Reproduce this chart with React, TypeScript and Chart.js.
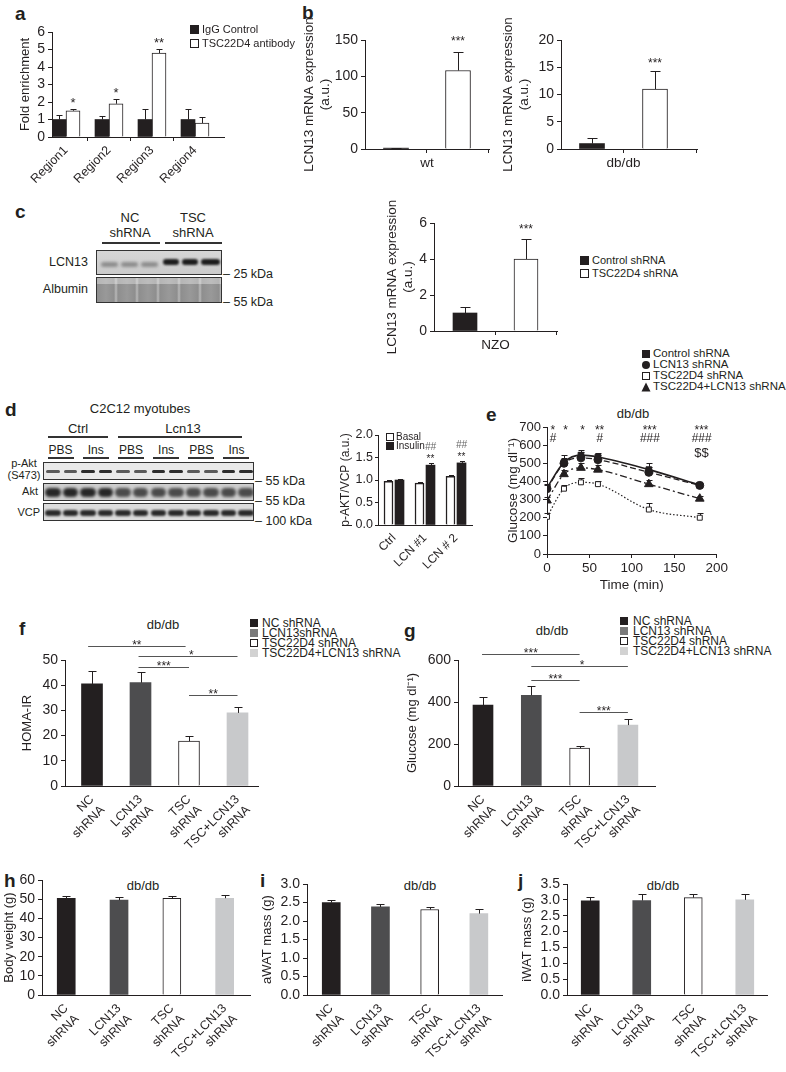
import React, { useEffect, useRef } from "react";
import { Chart, registerables } from "chart.js";

Chart.register(...registerables);

const FONT = "'Liberation Sans', Arial, Helvetica, sans-serif";
const INK = "#231f20";

// ---------------- data ----------------
// panel a
const aRegions = ["Region1", "Region2", "Region3", "Region4"];
const aIgG = [1.0, 1.0, 1.0, 1.0];
const aIgGTop = [1.25, 1.2, 1.6, 1.6];
const aTsc = [1.5, 1.9, 4.8, 0.8];
const aTscTop = [1.62, 2.2, 5.05, 1.15];
const aStars = ["*", "*", "**", ""];
// panel b
const bWtLabel = ["wt"];
const bWtValues = [1.2, 108];
const bWtTop = [1.8, 133];
const bDbLabel = ["db/db"];
const bDbValues = [1.0, 11];
const bDbTop = [2.0, 14.4];
// panel c
const cLabel = ["NZO"];
const cValues = [1.0, 4.0];
const cTop = [1.35, 5.1];
// panel d
const dGroups = ["Ctrl", "LCN #1", "LCN # 2"];
const dBasal = [0.97, 0.93, 1.08];
const dBasalTop = [1.0, 0.96, 1.11];
const dInsulin = [1.0, 1.33, 1.38];
const dInsulinTop = [1.03, 1.37, 1.42];
const dStars = ["", "**", "**"];
const dHash = ["", "##", "##"];
// panel e
const eTimes = [0, 20, 40, 60, 120, 180];
const eControl = [365, 505, 545, 535, 465, 380];
const eControlTop = [385, 545, 575, 558, 500, 392];
const eLcn13 = [360, 500, 530, 520, 450, 378];
const eLcn13Top = [378, 530, 560, 545, 480, 386];
const eTsc = [205, 360, 395, 385, 245, 200];
const eTscTop = [225, 380, 420, 405, 280, 225];
const eCombo = [295, 440, 475, 465, 385, 305];
const eComboTop = [312, 465, 500, 490, 410, 320];
const eStarX = [7, 22, 42, 62, 121, 182];
const eStars = ["*", "*", "*", "**", "***", "***"];
const eHash = ["#", "", "", "#", "###", "###"];
const eDollar = ["", "", "", "", "", "$$"];
// panels f-j
const groupLabels = [["NC", "shRNA"], ["LCN13", "shRNA"], ["TSC", "shRNA"], ["TSC+LCN13", "shRNA"]];
const fHoma = [40.5, 41.0, 17.8, 29.0];
const fHomaTop = [45.5, 45.2, 20.0, 31.4];
const gGlucose = [385, 432, 180, 290];
const gGlucoseTop = [425, 477, 190, 320];
const hBody = [50.5, 49.5, 50.5, 50.5];
const hBodyTop = [51.6, 51.2, 51.6, 52.2];
const iAwat = [2.5, 2.38, 2.31, 2.2];
const iAwatTop = [2.57, 2.47, 2.37, 2.33];
const jIwat = [2.97, 2.98, 3.07, 3.0];
const jIwatTop = [3.1, 3.18, 3.2, 3.18];

const groupFill = [INK, "#4d4d4f", "#ffffff", "#c8c9cb"];
const groupBorderW = [0, 0, 1, 0];

// ---------------- helpers ----------------
type Note = { x: number; y: number; dy: number; text: string; size?: number; color?: string; italic?: boolean };
type Sig = { x1: number; x2: number; y: number; text: string; tx?: number };
type ErrSpec = { ds: number; tops: number[]; cap: number };

function decor(errs: ErrSpec[], notes: Note[], sigs: Sig[], xTicks: number[], errBehind = false) {
  const drawErr = (chart: any) => {
    const ctx = chart.ctx;
    const ys = chart.scales.y;
    ctx.save();
    ctx.strokeStyle = INK;
    ctx.lineWidth = 1;
    errs.forEach((e) => {
      const meta = chart.getDatasetMeta(e.ds);
      meta.data.forEach((el: any, i: number) => {
        const t = e.tops[i];
        if (t == null) return;
        const x = Math.round(el.x) + 0.5;
        const y1 = Math.round(ys.getPixelForValue(t)) + 0.5;
        ctx.beginPath();
        ctx.moveTo(x, el.y);
        ctx.lineTo(x, y1);
        ctx.moveTo(x - e.cap / 2, y1);
        ctx.lineTo(x + e.cap / 2, y1);
        ctx.stroke();
      });
    });
    ctx.restore();
  };
  return {
    id: "decor",
    beforeDatasetsDraw(chart: any) {
      if (errBehind) drawErr(chart);
    },
    afterDatasetsDraw(chart: any) {
      if (!errBehind) drawErr(chart);
    },
    afterDraw(chart: any) {
      const ctx = chart.ctx;
      const xs = chart.scales.x;
      const ys = chart.scales.y;
      const area = chart.chartArea;
      ctx.save();
      ctx.strokeStyle = INK;
      ctx.fillStyle = INK;
      ctx.lineWidth = 1;
      xTicks.forEach((v) => {
        const x = Math.round(xs.getPixelForValue(v)) - 0.5;
        ctx.beginPath();
        ctx.moveTo(x, area.bottom);
        ctx.lineTo(x, area.bottom + 4);
        ctx.stroke();
      });
      sigs.forEach((s) => {
        const y = Math.round(ys.getPixelForValue(s.y)) + 0.5;
        const x1 = xs.getPixelForValue(s.x1);
        const x2 = xs.getPixelForValue(s.x2);
        ctx.strokeStyle = "#555";
        ctx.beginPath();
        ctx.moveTo(x1, y);
        ctx.lineTo(x2, y);
        ctx.stroke();
        ctx.font = `12px ${FONT}`;
        ctx.textAlign = "center";
        ctx.textBaseline = "alphabetic";
        const tx = s.tx != null ? xs.getPixelForValue(s.tx) : (x1 + x2) / 2;
        ctx.fillText(s.text, tx, y + 2);
      });
      notes.forEach((n) => {
        if (!n.text) return;
        ctx.font = `${n.italic ? "italic " : ""}${n.size ?? 12}px ${FONT}`;
        ctx.fillStyle = n.color ?? INK;
        ctx.textAlign = "center";
        ctx.textBaseline = "alphabetic";
        ctx.fillText(n.text, xs.getPixelForValue(n.x), ys.getPixelForValue(n.y) + n.dy);
      });
      ctx.restore();
    },
  };
}

type Series = {
  values: number[];
  tops: number[];
  xs: number[];
  fill: string | string[];
  stroke: string | string[];
  bw: number | number[];
};

type BarOpts = {
  series: Series[];
  xMin: number;
  xMax: number;
  labels: (string | string[])[];
  labelXs: number[];
  xTicks?: number[];
  yMax: number;
  yStep: number;
  yDigits?: number;
  yTitle: string | string[];
  barW: number;
  cap: number;
  yW: number;
  xH: number;
  padTop: number;
  padRight: number;
  padLeft?: number;
  tickSize: number;
  tickLen?: number;
  tickPad?: number;
  labelSize: number;
  titleSize: number;
  rot: number;
  notes?: Note[];
  sigs?: Sig[];
};

function barConfig(o: BarOpts): any {
  const datasets = o.series.map((s) => ({
    type: "bar",
    data: s.values.map((v, i) => ({ x: s.xs[i], y: v })),
    backgroundColor: s.fill,
    borderColor: s.stroke,
    borderWidth: s.bw,
    barThickness: o.barW,
    grouped: false,
  }));
  const errs = o.series.map((s, k) => ({ ds: k, tops: s.tops, cap: o.cap }));
  return {
    type: "bar",
    data: { datasets },
    options: {
      animation: false,
      responsive: false,
      devicePixelRatio: 1,
      layout: { padding: { top: o.padTop, right: o.padRight, left: o.padLeft ?? 0, bottom: 0 } },
      plugins: { legend: { display: false }, tooltip: { enabled: false } },
      scales: {
        x: {
          type: "linear",
          offset: false,
          min: o.xMin,
          max: o.xMax,
          afterBuildTicks: (s: any) => {
            s.ticks = o.labelXs.map((v) => ({ value: v }));
          },
          afterFit: (s: any) => {
            s.height = o.xH;
          },
          grid: { display: false, drawTicks: true, tickLength: 4 },
          border: { display: true, color: INK, width: 1 },
          ticks: {
            autoSkip: false,
            maxRotation: o.rot,
            minRotation: o.rot,
            padding: 2,
            color: INK,
            font: { family: FONT, size: o.labelSize },
            callback: (_v: any, i: number) => o.labels[i],
          },
        },
        y: {
          type: "linear",
          min: 0,
          max: o.yMax,
          afterFit: (s: any) => {
            s.width = o.yW;
          },
          grid: { display: true, drawOnChartArea: false, drawTicks: true, tickLength: o.tickLen ?? 4, color: INK },
          border: { display: true, color: INK, width: 1 },
          ticks: {
            autoSkip: false,
            stepSize: o.yStep,
            padding: o.tickPad ?? 3,
            color: INK,
            font: { family: FONT, size: o.tickSize },
            callback: (v: any) => (o.yDigits ? Number(v).toFixed(o.yDigits) : String(v)),
          },
          title: {
            display: true,
            text: o.yTitle,
            color: INK,
            font: { family: FONT, size: o.titleSize },
            padding: { top: 2, bottom: 2 },
          },
        },
      },
    },
    plugins: [decor(errs, o.notes ?? [], o.sigs ?? [], o.xTicks ?? [])],
  };
}

const idx = (arr: any[], base = 1) => arr.map((_, i) => i + base);

// ---------------- chart configs ----------------
function makeA() {
  const pitch = 43;
  const off = 7 / pitch;
  const ig = idx(aRegions).map((v) => v - off);
  const ts = idx(aRegions).map((v) => v + off);
  return barConfig({
    series: [
      { values: aIgG, tops: aIgGTop, xs: ig, fill: INK, stroke: INK, bw: 0 },
      { values: aTsc, tops: aTscTop, xs: ts, fill: "#fff", stroke: INK, bw: 1 },
    ],
    xMin: 1 - 14 / pitch,
    xMax: 1 - 14 / pitch + 172 / pitch,
    labels: aRegions,
    labelXs: idx(aRegions),
    xTicks: [1.5, 2.5, 3.5],
    yMax: 6,
    yStep: 1,
    yTitle: "Fold enrichment",
    barW: 14,
    cap: 6,
    yW: 36,
    padLeft: 16,
    xH: 55,
    padTop: 12,
    padRight: 8,
    tickSize: 14,
    labelSize: 12.5,
    titleSize: 13,
    rot: 45,
    notes: aStars.map((t, i) => ({ x: ts[i], y: aTscTop[i], dy: -2, text: t, size: 13 })),
  });
}

function makePair(
  values: number[],
  tops: number[],
  label: string[],
  yMax: number,
  yStep: number,
  xMin: number,
  xMax: number,
  barW: number,
  xH: number,
  dy: number,
  padLeft: number,
  yW: number,
  padTop: number
) {
  const xs = [1, 2];
  return barConfig({
    series: [{ values, tops, xs, fill: [INK, "#fff"], stroke: [INK, INK], bw: [0, 1] }],
    xMin,
    xMax,
    labels: label,
    labelXs: [1.5],
    xTicks: [1.5, xMax],
    yMax,
    yStep,
    yTitle: ["LCN13 mRNA expression", "(a.u.)"],
    barW,
    cap: 10,
    yW,
    padLeft,
    xH,
    padTop,
    padRight: 6,
    tickSize: 14,
    labelSize: 13.5,
    titleSize: 13.5,
    rot: 0,
    notes: [{ x: 2, y: tops[1], dy, text: "***", size: 12 }],
  });
}

function makeD() {
  const pitch = 31;
  const off = 5.5 / pitch;
  const bx = idx(dGroups).map((v) => v - off);
  const ix = idx(dGroups).map((v) => v + off);
  return barConfig({
    series: [
      { values: dBasal, tops: dBasalTop, xs: bx, fill: "#fff", stroke: INK, bw: 1.5 },
      { values: dInsulin, tops: dInsulinTop, xs: ix, fill: INK, stroke: INK, bw: 0 },
    ],
    xMin: 1 - 16 / pitch,
    xMax: 1 - 16 / pitch + 94 / pitch,
    labels: dGroups,
    labelXs: idx(dGroups),
    yMax: 2,
    yStep: 0.5,
    yDigits: 1,
    yTitle: "p-AKT/VCP (a.u.)",
    barW: 9,
    cap: 5,
    yW: 42,
    padLeft: 6,
    tickLen: 3,
    tickPad: 2,
    xH: 58,
    padTop: 12,
    padRight: 4,
    tickSize: 12.5,
    labelSize: 12,
    titleSize: 12,
    rot: 45,
    notes: [
      ...dStars.map((t, i) => ({ x: ix[i], y: dInsulinTop[i], dy: -1, text: t, size: 10 })),
      ...dHash.map((t, i) => ({ x: ix[i], y: dInsulinTop[i], dy: -13, text: t, size: 10, italic: true, color: "#666" })),
    ],
  });
}

function makeGroup(
  values: number[],
  tops: number[],
  yMax: number,
  yStep: number,
  yDigits: number,
  yTitle: string,
  xMin: number,
  xMax: number,
  barW: number,
  yW: number,
  padLeft: number,
  xH: number,
  padTop: number,
  sigs: Sig[]
) {
  return barConfig({
    series: [{ values, tops, xs: idx(values), fill: groupFill, stroke: INK, bw: groupBorderW }],
    xMin,
    xMax,
    labels: groupLabels,
    labelXs: idx(groupLabels),
    yMax,
    yStep,
    yDigits,
    yTitle,
    barW,
    cap: 8,
    yW,
    padLeft,
    xH,
    padTop,
    padRight: 6,
    tickSize: 14,
    labelSize: 12.5,
    titleSize: 13,
    rot: 45,
    sigs,
  });
}

function makeE(): any {
  const specs = [
    { v: eControl, t: eControlTop, shape: "rect", r: 4, fill: INK, dash: [], lw: 1.6 },
    { v: eLcn13, t: eLcn13Top, shape: "circle", r: 4, fill: INK, dash: [6, 3], lw: 1.3 },
    { v: eTsc, t: eTscTop, shape: "rect", r: 3.5, fill: "#fff", dash: [1.5, 2], lw: 1.2 },
    { v: eCombo, t: eComboTop, shape: "triangle", r: 5, fill: INK, dash: [7, 3, 2, 3], lw: 1.3 },
  ];
  const datasets = specs.map((s) => ({
    type: "line",
    data: s.v.map((v, i) => ({ x: eTimes[i], y: v })),
    borderColor: INK,
    borderWidth: s.lw,
    borderDash: s.dash,
    pointStyle: s.shape,
    pointRadius: s.r,
    pointBackgroundColor: s.fill,
    pointBorderColor: INK,
    pointBorderWidth: 1,
    cubicInterpolationMode: "monotone",
    fill: false,
  }));
  const errs = specs.map((s, k) => ({ ds: k, tops: s.t, cap: 6 }));
  const notes: Note[] = [
    ...eStars.map((t, i) => ({ x: eStarX[i], y: 700, dy: 7, text: t, size: 12 })),
    ...eHash.map((t, i) => ({ x: eStarX[i], y: 700, dy: 15, text: t, size: 12, italic: true })),
    ...eDollar.map((t, i) => ({ x: eStarX[i], y: 700, dy: 30, text: t, size: 13 })),
  ];
  return {
    type: "line",
    data: { datasets },
    options: {
      animation: false,
      responsive: false,
      devicePixelRatio: 1,
      layout: { padding: { top: 12, right: 7, left: 24, bottom: 0 } },
      plugins: { legend: { display: false }, tooltip: { enabled: false } },
      scales: {
        x: {
          type: "linear",
          min: 0,
          max: 200,
          afterFit: (s: any) => {
            s.height = 41;
          },
          grid: { display: true, drawOnChartArea: false, drawTicks: true, tickLength: 4, color: INK },
          border: { display: true, color: INK, width: 1 },
          ticks: { autoSkip: false, stepSize: 50, padding: 2, color: INK, font: { family: FONT, size: 13.5 }, maxRotation: 0 },
          title: { display: true, text: "Time (min)", color: INK, font: { family: FONT, size: 13.5 }, padding: { top: 2, bottom: 2 } },
        },
        y: {
          type: "linear",
          min: 0,
          max: 700,
          afterFit: (s: any) => {
            s.width = 43;
          },
          grid: { display: true, drawOnChartArea: false, drawTicks: true, tickLength: 4, color: INK },
          border: { display: true, color: INK, width: 1 },
          ticks: { autoSkip: false, stepSize: 100, padding: 2, color: INK, font: { family: FONT, size: 13 } },
          title: { display: true, text: "Glucose (mg dl⁻¹)", color: INK, font: { family: FONT, size: 13.5 }, padding: { top: 1, bottom: 1 } },
        },
      },
    },
    plugins: [decor(errs, notes, [], [], true)],
  };
}

// ---------------- components ----------------
function ChartBox({ x, y, w, h, make }: { x: number; y: number; w: number; h: number; make: () => any }) {
  const ref = useRef<HTMLCanvasElement | null>(null);
  useEffect(() => {
    if (!ref.current) return;
    const chart = new Chart(ref.current, make());
    return () => chart.destroy();
  }, []);
  return (
    <div style={{ position: "absolute", left: x, top: y, width: w, height: h }}>
      <canvas ref={ref} width={w} height={h} style={{ width: w, height: h, display: "block" }} />
    </div>
  );
}

function T({ x, y, children, size = 12, bold = false, align = "left", italic = false, color = INK }: any) {
  const tx = align === "left" ? "0" : align === "center" ? "-50%" : "-100%";
  return (
    <div
      style={{
        position: "absolute",
        left: x,
        top: y,
        transform: `translate(${tx},-50%)`,
        fontSize: size,
        fontWeight: bold ? 700 : 400,
        fontStyle: italic ? "italic" : "normal",
        fontFamily: FONT,
        whiteSpace: "nowrap",
        lineHeight: 1,
        color,
      }}
    >
      {children}
    </div>
  );
}

function Sq({ x, y, fill, stroke, size = 8 }: any) {
  return (
    <div
      style={{
        position: "absolute",
        left: x,
        top: y - size / 2,
        width: size,
        height: size,
        background: fill,
        border: stroke ? `1px solid ${stroke}` : "none",
        boxSizing: "border-box",
      }}
    />
  );
}

function Line({ x1, x2, y, w = 1.5, color = "#333" }: any) {
  return <div style={{ position: "absolute", left: x1, top: y, width: x2 - x1, height: w, background: color }} />;
}

function Band({ x, y, w, h, color, blur = 1 }: any) {
  return (
    <div
      style={{
        position: "absolute",
        left: x,
        top: y,
        width: w,
        height: h,
        background: color,
        borderRadius: h / 2,
        filter: `blur(${blur}px)`,
      }}
    />
  );
}

function Box({ x, y, w, h, bg, children }: any) {
  return (
    <div
      style={{
        position: "absolute",
        left: x,
        top: y,
        width: w,
        height: h,
        border: "1.5px solid #333",
        boxSizing: "border-box",
        background: bg,
        overflow: "hidden",
      }}
    >
      {children}
    </div>
  );
}

function Marker({ x, y, shape }: any) {
  let el: any = null;
  if (shape === "sq") el = <rect x={1} y={1} width={8} height={8} fill={INK} />;
  if (shape === "circ") el = <circle cx={5} cy={5} r={4} fill={INK} />;
  if (shape === "open") el = <rect x={1.5} y={1.5} width={7} height={7} fill="#fff" stroke={INK} strokeWidth={1} />;
  if (shape === "tri") el = <polygon points="5,0.5 9.5,9.5 0.5,9.5" fill={INK} />;
  return (
    <svg width={10} height={10} style={{ position: "absolute", left: x, top: y - 5 }}>
      {el}
    </svg>
  );
}

function BlotC() {
  const ncLanes = [4, 24, 44];
  const tscLanes = [66, 85, 104];
  return (
    <>
      <T x={130} y={217} size={13} align="center">NC</T>
      <T x={130} y={232} size={13} align="center">shRNA</T>
      <T x={193} y={217} size={13} align="center">TSC</T>
      <T x={193} y={232} size={13} align="center">shRNA</T>
      <Line x1={102} x2={160} y={242} />
      <Line x1={165} x2={222} y={242} />
      <T x={88} y={262} size={12.5} align="right">LCN13</T>
      <T x={88} y={289} size={12.5} align="right">Albumin</T>
      <Box x={96} y={250} w={126} h={25} bg="linear-gradient(#d6d6d6,#cbcbcb)">
        {ncLanes.map((l, i) => (
          <Band key={"n" + i} x={l} y={11} w={17} h={5} color="rgba(60,60,60,0.45)" blur={1.5} />
        ))}
        {tscLanes.map((l, i) => (
          <Band key={"t" + i} x={l} y={8} w={i === 2 ? 19 : 16} h={6} color="#1d1d1d" blur={1} />
        ))}
      </Box>
      <Box
        x={96}
        y={277}
        w={126}
        h={26}
        bg="repeating-linear-gradient(90deg,#8e8e8e 0px,#999 9px,#8e8e8e 17px,#b8b8b8 19px,#8e8e8e 21px), #999"
      >
        <div style={{ position: "absolute", left: 0, top: 0, width: "100%", height: 6, background: "rgba(255,255,255,0.35)" }} />
      </Box>
      <T x={223} y={274} size={12.5}>– 25 kDa</T>
      <T x={223} y={302} size={12.5}>– 55 kDa</T>
    </>
  );
}

function BlotD() {
  const lanes = Array.from({ length: 12 }, (_, i) => i);
  const lw = 211 / 12;
  const pairs = ["PBS", "Ins", "PBS", "Ins", "PBS", "Ins"];
  return (
    <>
      <T x={140} y={408} size={13} align="center">C2C12 myotubes</T>
      <T x={78} y={428} size={13} align="center">Ctrl</T>
      <T x={183} y={428} size={13} align="center">Lcn13</T>
      <Line x1={48} x2={108} y={436} />
      <Line x1={118} x2={242} y={436} />
      {pairs.map((p, i) => {
        const cx = 43 + lw * (2 * i + 1);
        return (
          <React.Fragment key={i}>
            <T x={cx} y={450} size={12} align="center">{p}</T>
            <Line x1={cx - 13} x2={cx + 13} y={457} />
          </React.Fragment>
        );
      })}
      <T x={24} y={463} size={11} align="center">p-Akt</T>
      <T x={24} y={475} size={11} align="center">(S473)</T>
      <T x={38} y={491} size={11} align="right">Akt</T>
      <T x={40} y={512} size={11} align="right">VCP</T>
      <Box x={43} y={462} w={211} h={18} bg="#e9e9e9">
        {lanes.map((i) => (
          <Band key={i} x={i * lw + 2} y={7} w={lw - 4} h={3} color={Math.floor(i / 2) % 2 ? "#2c2c2c" : "#5a5a5a"} blur={0.6} />
        ))}
      </Box>
      <Box x={43} y={483} w={211} h={18} bg="#cfcfcf">
        {lanes.map((i) => (
          <Band key={i} x={i * lw + 1} y={4} w={lw - 2} h={9} color={i < 4 ? "#262626" : "#4a4a4a"} blur={1.5} />
        ))}
      </Box>
      <Box x={43} y={503} w={211} h={18} bg="#dcdcdc">
        {lanes.map((i) => (
          <Band key={i} x={i * lw + 1} y={6} w={lw - 2} h={6} color="#2a2a2a" blur={1} />
        ))}
      </Box>
      <T x={255} y={481} size={12.5}>– 55 kDa</T>
      <T x={255} y={501} size={12.5}>– 55 kDa</T>
      <T x={255} y={521} size={12.5}>– 100 kDa</T>
    </>
  );
}

export default function App() {
  const fSigs: Sig[] = [
    { x1: 0.92, x2: 2.93, y: 55.5, text: "**" },
    { x1: 1.96, x2: 4.0, y: 51.6, text: "*", tx: 3.05 },
    { x1: 1.96, x2: 3.0, y: 47.2, text: "***" },
    { x1: 3.0, x2: 4.0, y: 36.0, text: "**" },
  ];
  const gSigs: Sig[] = [
    { x1: 0.98, x2: 3.0, y: 629, text: "***" },
    { x1: 2.0, x2: 4.0, y: 571, text: "*", tx: 3.05 },
    { x1: 2.0, x2: 3.0, y: 505, text: "***" },
    { x1: 3.0, x2: 4.0, y: 352, text: "***" },
  ];
  const legendF = ["NC shRNA", "LCN13shRNA", "TSC22D4 shRNA", "TSC22D4+LCN13 shRNA"];
  const legendG = ["NC shRNA", "LCN13 shRNA", "TSC22D4 shRNA", "TSC22D4+LCN13 shRNA"];
  const legFill = [INK, "#7a7a7a", "#fff", "#d2d2d2"];
  const legStroke = [null, null, INK, null];
  const legendE = ["Control shRNA", "LCN13 shRNA", "TSC22D4 shRNA", "TSC22D4+LCN13 shRNA"];
  const legShapes = ["sq", "circ", "open", "tri"];

  return (
    <div
      style={{
        position: "absolute",
        left: 0,
        top: 0,
        width: 786,
        height: 1072,
        background: "#fff",
        overflow: "hidden",
        fontFamily: FONT,
        color: INK,
      }}
    >
      {/* panel letters */}
      <T x={15} y={13} size={19} bold>a</T>
      <T x={302} y={12} size={19} bold>b</T>
      <T x={15} y={211} size={19} bold>c</T>
      <T x={5} y={409} size={19} bold>d</T>
      <T x={486} y={414} size={19} bold>e</T>
      <T x={19} y={628} size={19} bold>f</T>
      <T x={404} y={630} size={19} bold>g</T>
      <T x={4} y={880} size={19} bold>h</T>
      <T x={260} y={880} size={19} bold>i</T>
      <T x={518} y={880} size={19} bold>j</T>

      {/* panel a */}
      <ChartBox x={0} y={20} w={232} h={172} make={makeA} />
      <Sq x={190} y={29} fill={INK} size={9} />
      <T x={202} y={29} size={11}>IgG Control</T>
      <Sq x={190} y={43} fill="#fff" stroke={INK} size={9} />
      <T x={202} y={43} size={11}>TSC22D4 antibody</T>

      {/* panel b */}
      <ChartBox
        x={295}
        y={16}
        w={200}
        h={162}
        make={() => makePair(bWtValues, bWtTop, bWtLabel, 150, 50, 0.5, 2.5, 25, 29, -7, 4, 66, 24)}
      />
      <ChartBox
        x={491}
        y={16}
        w={212}
        h={162}
        make={() => makePair(bDbValues, bDbTop, bDbLabel, 20, 5, 1 - 31 / 63, 1 - 31 / 63 + 136 / 63, 25, 29, -4, 7, 63, 24)}
      />

      {/* panel c */}
      <BlotC />
      <ChartBox
        x={364}
        y={199}
        w={199}
        h={162}
        make={() => makePair(cValues, cTop, cLabel, 6, 2, 1 - 31 / 61, 1 - 31 / 61 + 123 / 61, 24, 30, -6, 18, 52, 24)}
      />
      <Sq x={580} y={260} fill={INK} size={9} />
      <T x={592} y={260} size={11}>Control shRNA</T>
      <Sq x={580} y={273} fill="#fff" stroke={INK} size={9} />
      <T x={592} y={273} size={11}>TSC22D4 shRNA</T>

      {/* panel d */}
      <BlotD />
      <ChartBox x={330} y={423} w={146} h={160} make={makeD} />
      <Sq x={386} y={437} fill="#fff" stroke={INK} size={8} />
      <T x={396} y={437} size={10}>Basal</T>
      <Sq x={386} y={446} fill={INK} size={8} />
      <T x={396} y={446} size={10}>Insulin</T>

      {/* panel e */}
      {legendE.map((l, i) => (
        <React.Fragment key={l}>
          <Marker x={641} y={354 + i * 11} shape={legShapes[i]} />
          <T x={653} y={354 + i * 11} size={11.5}>{l}</T>
        </React.Fragment>
      ))}
      <T x={633} y={413} size={13} align="center">db/db</T>
      <ChartBox x={480} y={415} w={250} h={180} make={makeE} />

      {/* panel f */}
      <T x={163} y={624} size={13} align="center">db/db</T>
      {legendF.map((l, i) => (
        <React.Fragment key={l}>
          <Sq x={250} y={623 + i * 10} fill={legFill[i]} stroke={legStroke[i]} size={8} />
          <T x={262} y={623 + i * 10} size={12}>{l}</T>
        </React.Fragment>
      ))}
      <ChartBox
        x={0}
        y={630}
        w={264}
        h={233}
        make={() => makeGroup(fHoma, fHomaTop, 50, 10, 0, "HOMA-IR", 1 - 27 / 48.5, 1 - 27 / 48.5 + 193 / 48.5, 21, 47, 18, 77, 30, fSigs)}
      />

      {/* panel g */}
      <T x={552} y={630} size={13} align="center">db/db</T>
      {legendG.map((l, i) => (
        <React.Fragment key={l}>
          <Sq x={620} y={621 + i * 10} fill={legFill[i]} stroke={legStroke[i]} size={8} />
          <T x={633} y={621 + i * 10} size={12}>{l}</T>
        </React.Fragment>
      ))}
      <ChartBox
        x={390}
        y={630}
        w={271}
        h={233}
        make={() => makeGroup(gGlucose, gGlucoseTop, 600, 200, 0, "Glucose (mg dl⁻¹)", 1 - 25 / 48.3, 1 - 25 / 48.3 + 197 / 48.3, 20, 55, 13, 77, 30, gSigs)}
      />

      {/* panels h, i, j */}
      <T x={143} y={885} size={13} align="center">db/db</T>
      <ChartBox
        x={0}
        y={868}
        w={256}
        h={200}
        make={() => makeGroup(hBody, hBodyTop, 60, 10, 0, "Body weight (g)", 1 - 24 / 52.3, 1 - 24 / 52.3 + 206 / 52.3, 18, 42, 0, 73, 12, [])}
      />
      <T x={420} y={885} size={13} align="center">db/db</T>
      <ChartBox
        x={255}
        y={872}
        w={253}
        h={196}
        make={() => makeGroup(iAwat, iAwatTop, 3, 0.5, 1, "aWAT mass (g)", 1 - 24 / 48.7, 1 - 24 / 48.7 + 193 / 48.7, 18, 49, 3, 73, 12, [])}
      />
      <T x={663} y={885} size={13} align="center">db/db</T>
      <ChartBox
        x={515}
        y={872}
        w={258}
        h={196}
        make={() => makeGroup(jIwat, jIwatTop, 3.5, 0.5, 1, "iWAT mass (g)", 1 - 23 / 51, 1 - 23 / 51 + 198 / 51, 18, 49, 3, 73, 12, [])}
      />
    </div>
  );
}
